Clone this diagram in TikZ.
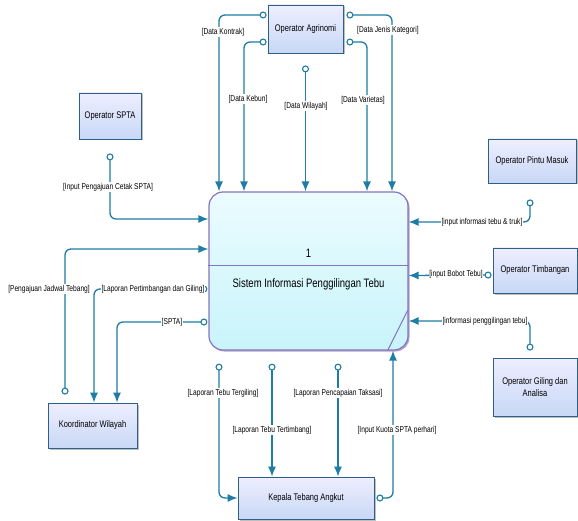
\documentclass[tikz,border=0pt]{standalone}
\usepackage{fontspec}
\setmainfont{Liberation Sans}[FakeStretch=0.78]
\usepackage{tikz}
\usetikzlibrary{arrows.meta, calc, shadows}
\definecolor{flowblue}{RGB}{30,125,165}
\definecolor{entityline}{RGB}{45,95,135}
\definecolor{entitytop}{RGB}{238,238,255}
\definecolor{entitybottom}{RGB}{200,216,246}
\definecolor{procline}{RGB}{135,115,195}
\definecolor{proctop}{RGB}{235,252,255}
\definecolor{procbottom}{RGB}{200,244,250}

\begin{document}
\begin{tikzpicture}[
    x=1pt, y=1pt,
    entity/.style={draw=entityline, thick, top color=entitytop, bottom color=entitybottom, drop shadow={shadow xshift=1.5pt, shadow yshift=-1.5pt, fill=black!50, opacity=0.5}, font=\fontsize{9.6}{12}\selectfont, align=center, inner sep=2pt},
    process/.style={draw=procline, line width=1.2pt, rounded corners=14pt, top color=proctop, bottom color=procbottom, drop shadow={shadow xshift=1.5pt, shadow yshift=-1.5pt, fill=procline!70!black, opacity=0.5}, minimum width=199pt, minimum height=158pt},
    flow/.style={draw=flowblue, line width=1.3pt, rounded corners=6pt, {Circle[length=7pt, width=7pt, fill=white, line width=1.1pt, sharp]}-{Latex[length=10pt, width=8pt, sharp]}},
    lbl/.style={fill=white, inner sep=0.6pt, font=\fontsize{8.5}{10}\selectfont}
]
    \path[use as bounding box, fill=white] (0,0) rectangle (578,520);

    % Process
    \node[process] (proc) at (308.5,249) {};
    \draw[procline, line width=1pt] ($(proc.west)+(0,5)$) -- ($(proc.east)+(0,5)$);
    \draw[procline, line width=1pt] ($(proc.south east)+(-1,40)$) -- ($(proc.south east)+(-21,0)$);
    \node[font=\fontsize{12.2}{14}\selectfont] (procnum) at (308.5,267) {1};
    \node[font=\fontsize{12.2}{14}\selectfont] (proctitle) at (308.5,236) {Sistem Informasi Penggilingan Tebu};

    % External entities
    \node[entity, minimum width=75pt, minimum height=48pt] (agri) at (305.5,491) {Operator Agrinomi};
    \node[entity, minimum width=62pt, minimum height=46pt] (spta) at (110,404) {Operator SPTA};
    \node[entity, minimum width=88pt, minimum height=44pt] (pintu) at (532,359) {Operator Pintu Masuk};
    \node[entity, minimum width=84pt, minimum height=45pt] (timb) at (535,249.5) {Operator Timbangan};
    \node[entity, minimum width=84pt, minimum height=58pt] (giling) at (535,133) {Operator Giling dan\\Analisa};
    \node[entity, minimum width=89pt, minimum height=45pt] (koord) at (92.5,94.5) {Koordinator Wilayah};
    \node[entity, minimum width=136pt, minimum height=42pt] (kepala) at (306,22) {Kepala Tebang Angkut};

    % Flows from Operator Agrinomi
    \draw[flow] ([xshift=-1pt,yshift=14pt]agri.west) -| ([xshift=-89.5pt]proc.north);
    \draw[flow] ([xshift=-1pt,yshift=-13pt]agri.west) -| ([xshift=-64.5pt]proc.north);
    \draw[flow] ([yshift=-12pt]agri.south) -- (agri.south |- proc.north);
    \draw[flow] ([xshift=3pt,yshift=-13pt]agri.east) -| ([xshift=58.5pt]proc.north);
    \draw[flow] ([xshift=3pt,yshift=14pt]agri.east) -| ([xshift=83.5pt]proc.north);

    % Left side
    \draw[flow] ([yshift=-14pt]spta.south) |- ([yshift=52pt]proc.west);
    \draw[flow] ([xshift=-27.5pt,yshift=8pt]koord.north) |- ([yshift=22pt]proc.west);
    \draw[flow] ([xshift=-1pt,yshift=-18pt]proc.west) -| ([xshift=1.5pt]koord.north);
    \draw[flow] ([xshift=-1pt,yshift=-51pt]proc.west) -| ([xshift=24.5pt]koord.north);

    % Right side
    \draw[flow] ([xshift=-2pt,yshift=-16pt]pintu.south) |- ([yshift=49pt]proc.east);
    \draw[flow] ([xshift=-1pt,yshift=-4.5pt]timb.west) -- ([yshift=-4.5pt]proc.east);
    \draw[flow] ([xshift=-5pt,yshift=7pt]giling.north) |- ([yshift=-50pt]proc.east);

    % Bottom
    \draw[flow] ([xshift=-89.5pt,yshift=-13pt]proc.south) |- (kepala.west);
    \draw[flow] ([xshift=-36.5pt,yshift=-13pt]proc.south) -- ([xshift=-34pt]kepala.north);
    \draw[flow] ([xshift=29.5pt,yshift=-13pt]proc.south) -- ([xshift=32pt]kepala.north);
    \draw[flow] ([xshift=2pt]kepala.east) -| ([xshift=84.5pt]proc.south);

    % Flow labels
    \node[lbl] (lkontrak) at (223,488) {[Data Kontrak]};
    \node[lbl] (lkebun) at (248,421) {[Data Kebun]};
    \node[lbl] (lwilayah) at (306,414) {[Data Wilayah]};
    \node[lbl] (lvarietas) at (363,420) {[Data Varietas]};
    \node[lbl] (ljenis) at (388,490) {[Data Jenis Kategori]};
    \node[lbl] (lcetak) at (108,333) {[Input Pengajuan Cetak SPTA]};
    \node[lbl] (ljadwal) at (49,231) {[Pengajuan Jadwal Tebang]};
    \node[lbl] (lpertimbangan) at (153,231) {[Laporan Pertimbangan dan Giling]};
    \node[lbl] (lspta) at (172,198) {[SPTA]};
    \node[lbl] (ltruk) at (482,298) {[input informasi tebu \& truk]};
    \node[lbl] (lbobot) at (456,246) {[input Bobot Tebu]};
    \node[lbl] (lgiling) at (485,199) {[informasi penggilingan tebu]};
    \node[lbl] (ltergiling) at (223,127) {[Laporan Tebu Tergiling]};
    \node[lbl] (ltertimbang) at (272,90) {[Laporan Tebu Tertimbang]};
    \node[lbl] (ltaksasi) at (338,127) {[Laporan Pencapaian Taksasi]};
    \node[lbl] (lkuota) at (397,90) {[Input Kuota SPTA perhari]};
\end{tikzpicture}
\end{document}
